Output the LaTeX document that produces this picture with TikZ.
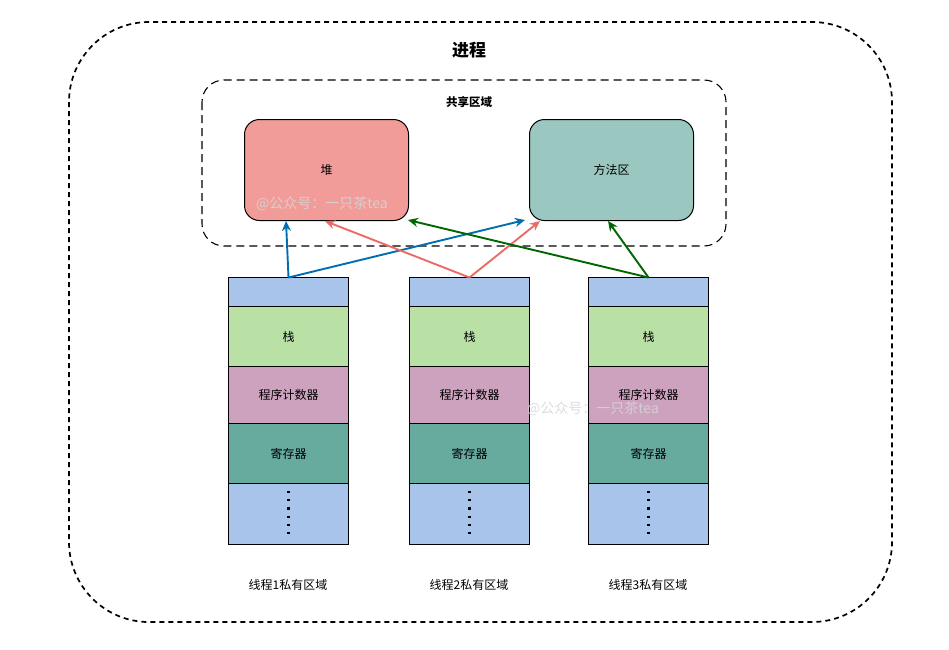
\documentclass[tikz,border=0pt]{standalone}
\usepackage{fontspec}
\setmainfont{Noto Sans CJK SC}
\usetikzlibrary{arrows.meta,calc}
\definecolor{heapc}{HTML}{F19C99}
\definecolor{methc}{HTML}{9AC7BF}
\definecolor{blc}{HTML}{A9C4EB}
\definecolor{grc}{HTML}{B9E0A5}
\definecolor{pkc}{HTML}{CDA2BE}
\definecolor{tlc}{HTML}{67AB9F}
\definecolor{arB}{HTML}{006EAF}
\definecolor{arR}{HTML}{EA6B66}
\definecolor{arG}{HTML}{006600}
\definecolor{wmc}{HTML}{D6D6D6}
\tikzset{
  rowbox/.style={draw=black, line width=1pt, minimum width=120pt, anchor=north west, inner sep=0pt, font=\fontsize{12}{14}\selectfont},
  areabox/.style={draw=black, line width=1pt, rounded corners=15pt, minimum width=164pt, minimum height=101pt, anchor=north west, inner sep=0pt, font=\fontsize{12}{14}\selectfont},
  conn/.style={line width=1.9pt, -{Stealth[length=10pt,width=9pt]}},
  wmark/.style={text=wmc, opacity=0.85, font=\fontsize{14}{16}\selectfont},
  lbl/.style={font=\fontsize{12}{14}\selectfont},
}
\begin{document}
\begin{tikzpicture}[x=1pt,y=-1pt]
\useasboundingbox (0,0) rectangle (949,649);
% outer process
\draw[line width=1.7pt, dash pattern=on 5pt off 4pt, rounded corners=80pt] (69,22) rectangle (892,622);
\node[font=\fontsize{17}{19}\selectfont\bfseries] (title) at (469,50) {进程};
% shared area
\draw[line width=1.1pt, black, dash pattern=on 8pt off 5pt, rounded corners=22pt] (202,80) rectangle (726,246);
\node[font=\fontsize{11.5}{13}\selectfont\bfseries] (shared) at (469,102) {共享区域};
\node[areabox, fill=heapc] (heap) at (244,119) {堆};
\node[areabox, fill=methc] (meth) at (529,119) {方法区};
% threads
\foreach \i/\x in {1/228,2/409,3/588}{
  \node[rowbox, fill=blc, minimum height=29pt] (a\i) at (\x,277) {};
  \node[rowbox, fill=grc, minimum height=60pt] (b\i) at (\x,306) {栈};
  \node[rowbox, fill=pkc, minimum height=57pt] (c\i) at (\x,366) {程序计数器};
  \node[rowbox, fill=tlc, minimum height=60pt] (d\i) at (\x,423) {寄存器};
  \node[rowbox, fill=blc, minimum height=61pt] (e\i) at (\x,483) {};
  \foreach \yy in {492,500.2,508.4,516.6,524.8,533}{
    \fill ($(e\i.north)+(0,\yy-483)$) ++(-1.1,-1.1) rectangle ++(2.2,2.2);
  }
  \node[lbl] (l\i) at ($(\x,585)+(60,0)$) {线程{\i}私有区域};
}
% watermarks
\node[wmark] (wm1) at (322,204) {@公众号：一只茶tea};
\node[wmark] (wm2) at (593,409) {@公众号：一只茶tea};
% arrow targets
\coordinate (hA) at (286,221);
\coordinate (hB) at (325,221);
\coordinate (hC) at (408,220);
\coordinate (mA) at (525,220);
\coordinate (mB) at (540,221);
\coordinate (mC) at (608,221);
\coordinate (s1) at ($(a1.north)+(0,0.5)$);
\coordinate (s2) at ($(a2.north)+(0,0.5)$);
\coordinate (s3) at ($(a3.north)+(0,0.5)$);
\draw[conn, arB] (s1) -- (hA);
\draw[conn, arB] (s1) -- (mA);
\draw[conn, arR] (s2) -- (hB);
\draw[conn, arR] (s2) -- (mB);
\draw[conn, arG] (s3) -- (mC);
\draw[conn, arG] (s3) -- (hC);
\end{tikzpicture}
\end{document}
